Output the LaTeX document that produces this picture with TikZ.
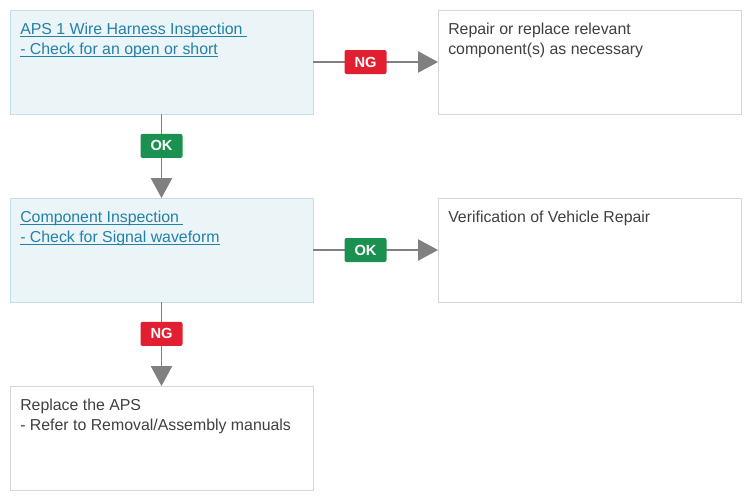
\documentclass[tikz,border=0pt]{standalone}
\usepackage{fontspec}
\setmainfont{Liberation Sans}
\usetikzlibrary{arrows.meta}
\definecolor{bluefill}{HTML}{EBF5F8}
\definecolor{blueline}{HTML}{C5DFEA}
\definecolor{greyline}{HTML}{D6D6D6}
\definecolor{conncol}{HTML}{808080}
\definecolor{linkcol}{HTML}{2381A8}
\definecolor{txtcol}{HTML}{404040}
\definecolor{ngred}{HTML}{E21F30}
\definecolor{okgreen}{HTML}{1A9150}
\tikzset{
  px/.style={x=0.75pt,y=-0.75pt},
  boxbase/.style={anchor=north west,inner sep=0pt,outer sep=0pt,minimum width=227.25pt,minimum height=78pt,line width=0.75pt},
  bluebox/.style={boxbase,draw=blueline,fill=bluefill},
  whitebox/.style={boxbase,draw=greyline,fill=white},
  boxtext/.style={anchor=north west,inner sep=0pt,align=left,font=\fontsize{11.9pt}{15pt}\selectfont,text=txtcol},
  linktext/.style={boxtext,text=linkcol},
  conn/.style={draw=conncol,line width=1.1pt,-{Triangle[length=15pt,width=16pt]}},
  tag/.style={rounded corners=1.5pt,inner sep=0pt,minimum width=31.5pt,minimum height=18pt,text=white,font=\bfseries\fontsize{11pt}{12pt}\selectfont},
  ngtag/.style={tag,fill=ngred},
  oktag/.style={tag,fill=okgreen},
}
\newcommand{\ul}[1]{\setbox0\hbox{#1}\rlap{\rule[-1.8pt]{\wd0}{0.7pt}}\box0}
\begin{document}
\begin{tikzpicture}[px]
\useasboundingbox (0,0) rectangle (751,500);
% boxes
\node[bluebox] (b1) at (10,10) {};
\node[whitebox] (b2) at (438,10) {};
\node[bluebox] (b3) at (10,198) {};
\node[whitebox] (b4) at (438,198) {};
\node[whitebox] (b5) at (10,386) {};
% texts
\node[linktext] (t1) at ([shift={(10,13)}]b1.north west) {\ul{APS 1 Wire Harness Inspection\ }\\\ul{- Check for an open or short}};
\node[boxtext] (t2) at ([shift={(10,13)}]b2.north west) {Repair or replace relevant\\component(s) as necessary};
\node[linktext] (t3) at ([shift={(10,13)}]b3.north west) {\ul{Component Inspection\ }\\\ul{- Check for Signal waveform}};
\node[boxtext] (t4) at ([shift={(10,13)}]b4.north west) {Verification of Vehicle Repair};
\node[boxtext] (t5) at ([shift={(10,13)}]b5.north west) {Replace the APS\\- Refer to Removal/Assembly manuals};
% connectors
\draw[conn] (b1.east) -- (b2.west) node[ngtag,pos=0.42] (l1) {NG};
\draw[conn] (b1.south) -- (b3.north) node[oktag,pos=0.38] (l2) {OK};
\draw[conn] (b3.east) -- (b4.west) node[oktag,pos=0.42] (l3) {OK};
\draw[conn] (b3.south) -- (b5.north) node[ngtag,pos=0.38] (l4) {NG};
\end{tikzpicture}
\end{document}
